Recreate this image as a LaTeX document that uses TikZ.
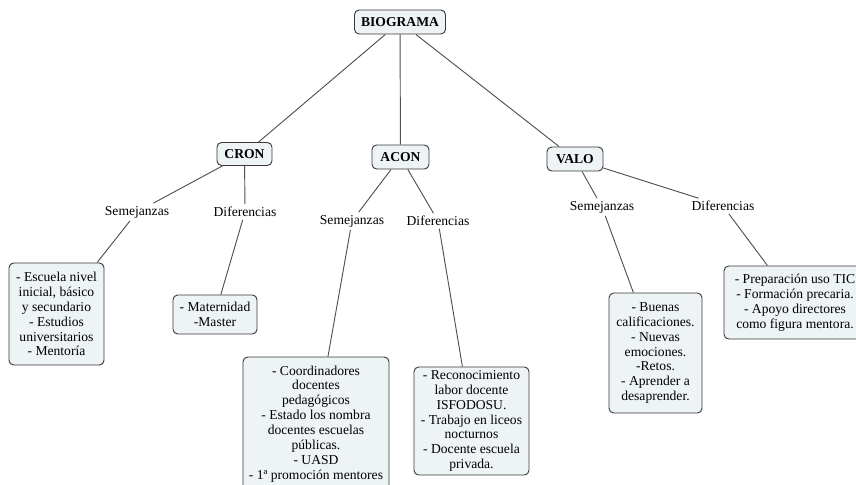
\documentclass[tikz,border=0pt]{standalone}
\usepackage{fontspec}
\setmainfont{Liberation Serif}
\usetikzlibrary{positioning}
\definecolor{boxfill}{HTML}{EEF3F6}
\definecolor{boxline}{HTML}{3A3A3A}
\definecolor{linkline}{HTML}{505050}
\tikzset{
  % Concept map
  mainbox/.style  = { draw=boxline, line width=0.7pt, rounded corners=3.5pt, fill=boxfill,
                      align=center, inner sep=1pt, font=\fontsize{10.2}{11.2}\selectfont\bfseries },
  infobox/.style  = { draw=boxline, line width=0.7pt, rounded corners=3.5pt, fill=boxfill,
                      align=center, inner sep=1pt, font=\fontsize{10.2}{11.2}\selectfont },
  linkword/.style = { inner sep=2pt, font=\fontsize{10.2}{11.2}\selectfont },
  linkedge/.style = { draw=linkline, line width=0.7pt }
}

\begin{document}
\begin{tikzpicture}[x=0.75pt, y=-0.75pt]

  \clip (0,0) rectangle (856,485);
  \useasboundingbox (0,0) rectangle (856,485);

  \node[mainbox, minimum width=68.25pt, minimum height=18pt] (bio) at (400,22) {BIOGRAMA};

  \node[mainbox, minimum width=41.25pt, minimum height=17.25pt] (cron) at (244.5,154) {CRON};
  \node[mainbox, minimum width=42.75pt, minimum height=18pt] (acon) at (400.5,157) {ACON};
  \node[mainbox, minimum width=42pt, minimum height=18pt] (valo) at (575,159) {VALO};

  \node[linkword] (cronsem) at (137,212) {Semejanzas};
  \node[linkword] (crondif) at (245,212) {Diferencias};
  \node[linkword] (aconsem) at (352,221) {Semejanzas};
  \node[linkword] (acondif) at (438,221) {Diferencias};
  \node[linkword] (valosem) at (602,207) {Semejanzas};
  \node[linkword] (valodif) at (723,206) {Diferencias};

  \node[infobox, minimum width=71.25pt, minimum height=76.5pt] (cronsembox) at (56.5,314)
    {- Escuela nivel\\inicial, básico\\y secundario\\- Estudios\\universitarios\\- Mentoría};
  \node[infobox, minimum width=63pt, minimum height=29.25pt] (crondifbox) at (215,314.5)
    {- Maternidad\\-Master};
  \node[infobox, minimum width=109.5pt, minimum height=100.5pt] (aconsembox) at (316,424)
    {- Coordinadores\\docentes\\pedagógicos\\- Estado los nombra\\docentes escuelas\\públicas.\\- UASD\\- 1ª promoción mentores};
  \node[infobox, minimum width=86.25pt, minimum height=81pt] (acondifbox) at (471.5,421)
    {- Reconocimiento\\labor docente\\ISFODOSU.\\- Trabajo en liceos\\nocturnos\\- Docente escuela\\privada.};
  \node[infobox, minimum width=69.75pt, minimum height=90pt] (valosembox) at (655.5,353)
    {- Buenas\\calificaciones.\\- Nuevas\\emociones.\\-Retos.\\- Aprender a\\desaprender.};
  \node[infobox, minimum width=106.5pt, minimum height=54.75pt] (valodifbox) at (795,302.5)
    {- Preparación uso TIC\\- Formación precaria.\\- Apoyo directores\\como figura mentora.};

  \draw[linkedge] (bio) -- (cron);
  \draw[linkedge] (bio) -- (acon);
  \draw[linkedge] (bio) -- (valo);

  \draw[linkedge] (cron) -- (cronsem);
  \draw[linkedge] (cron) -- (crondif);
  \draw[linkedge] (acon) -- (aconsem);
  \draw[linkedge] (acon) -- (acondif);
  \draw[linkedge] (valo) -- (valosem);
  \draw[linkedge] (valo) -- (valodif);

  \draw[linkedge] (cronsem) -- (cronsembox);
  \draw[linkedge] (crondif) -- (crondifbox);
  \draw[linkedge] (aconsem) -- (aconsembox);
  \draw[linkedge] (acondif) -- (acondifbox);
  \draw[linkedge] (valosem) -- (valosembox);
  \draw[linkedge] (valodif) -- (valodifbox);

\end{tikzpicture}
\end{document}
